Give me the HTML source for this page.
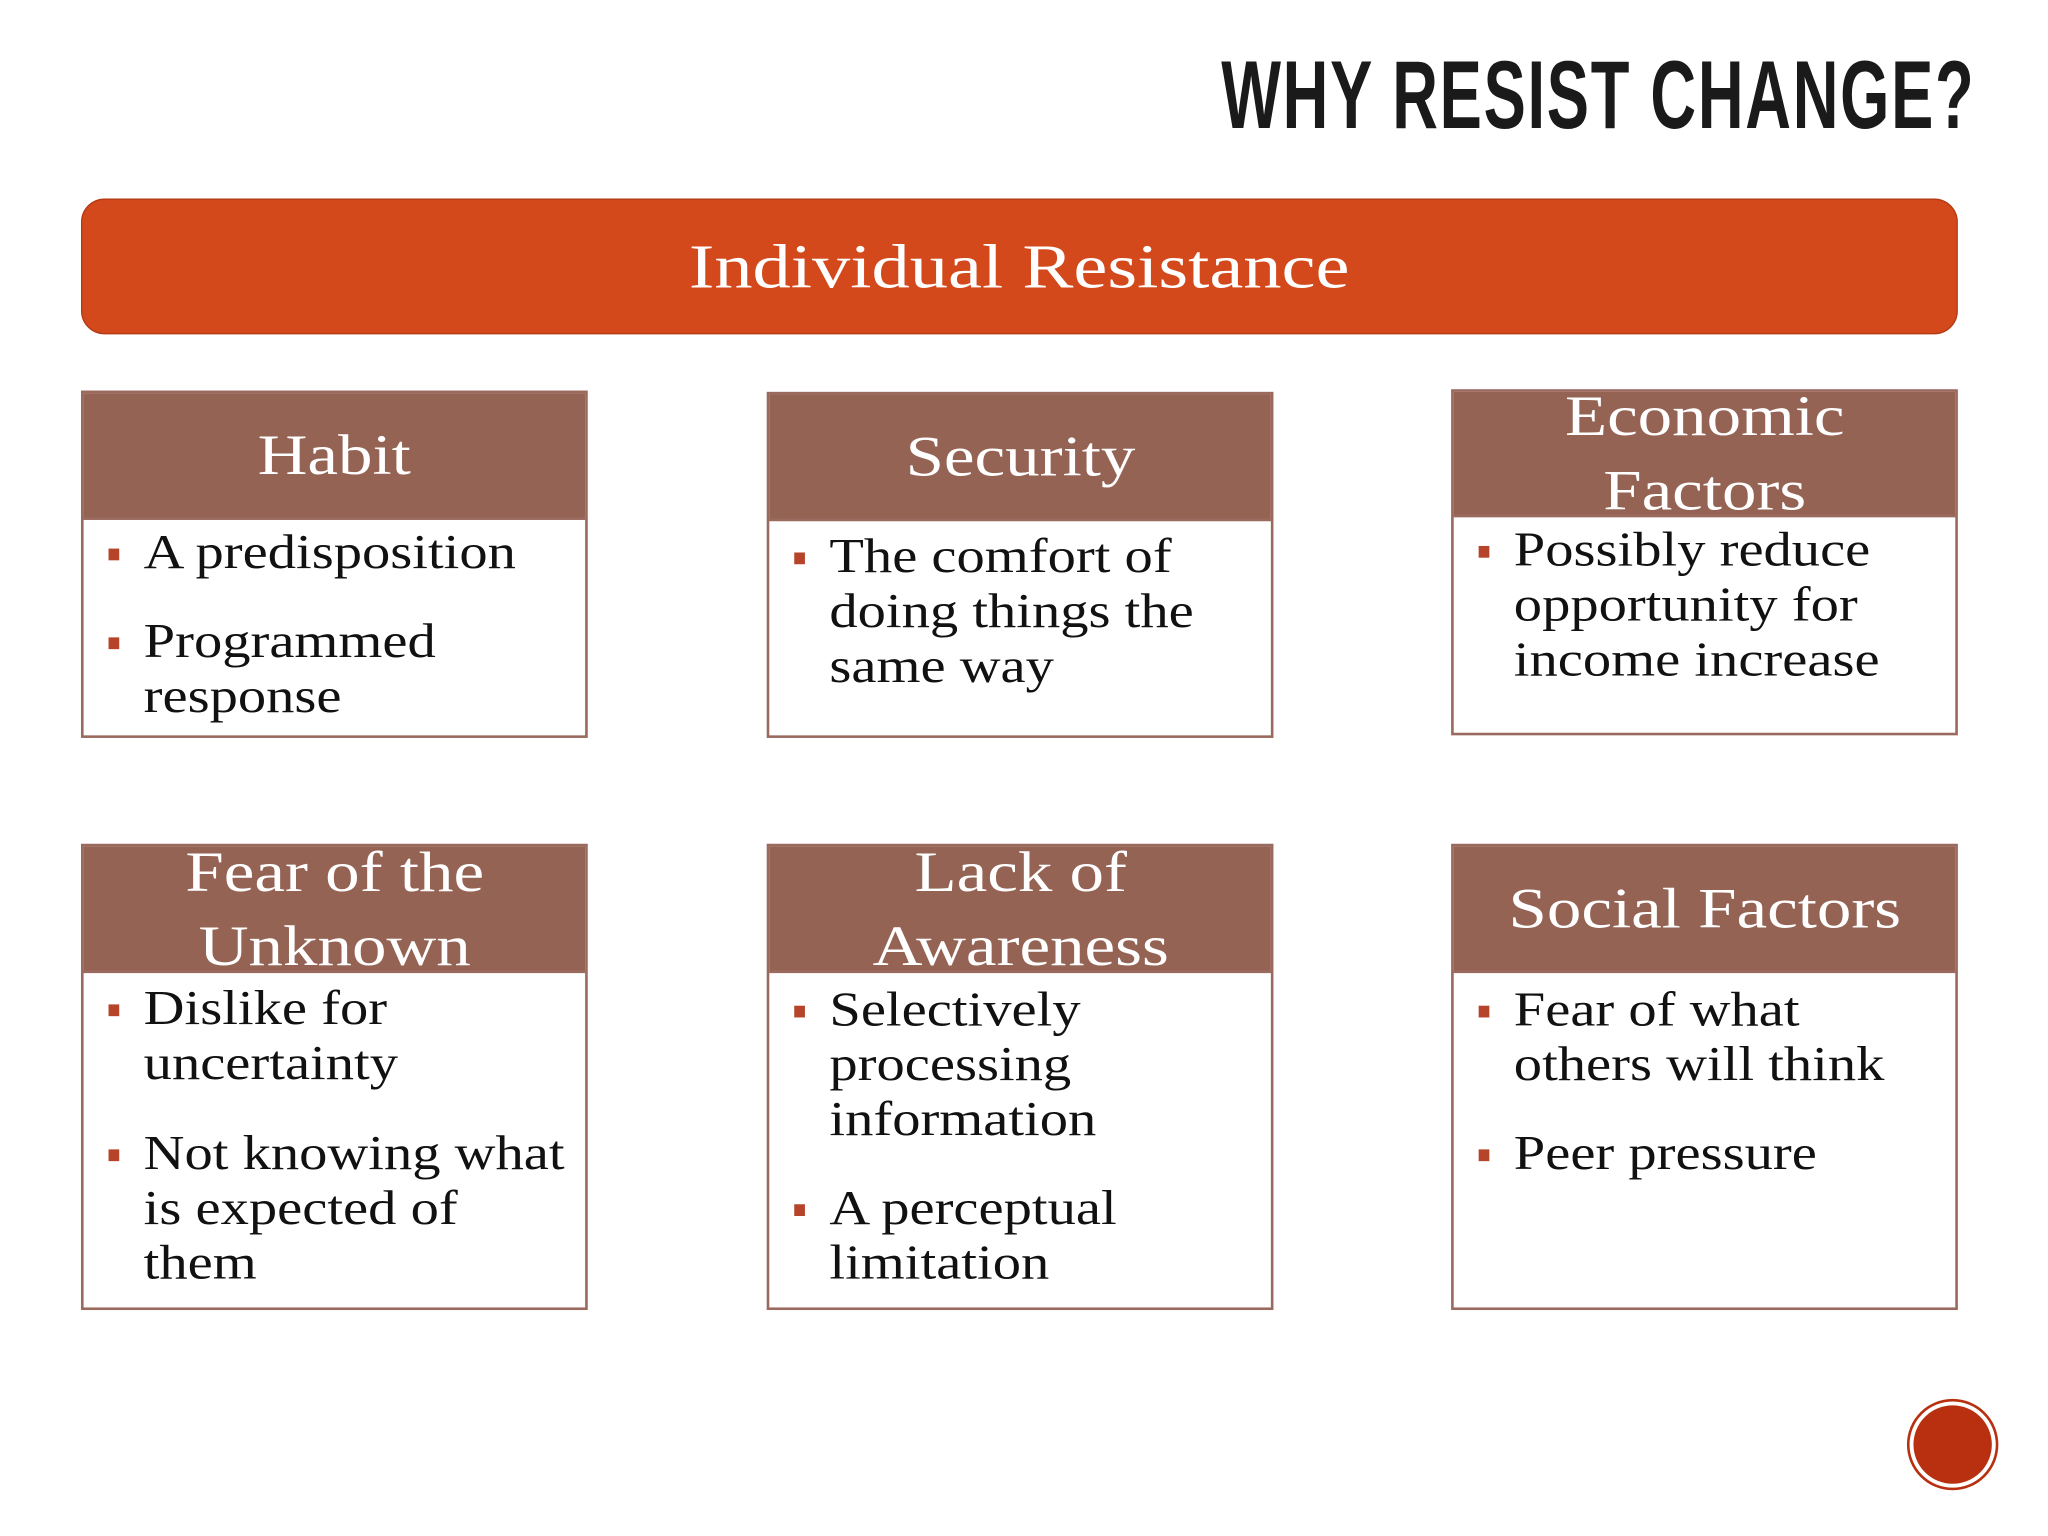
<!DOCTYPE html>
<html><head><meta charset="utf-8"><style>
html,body{margin:0;padding:0;background:#fff;}
#wrap{position:absolute;left:0;top:0;width:1568px;height:1176px;transform:scale(1.30612);transform-origin:0 0;background:#fff;font-family:"Liberation Serif",serif;}
.title{position:absolute;left:935px;top:30px;font-family:"Liberation Sans",sans-serif;font-weight:bold;font-size:74px;letter-spacing:2px;color:#1a1a1a;transform:scaleX(0.655);transform-origin:0 0;white-space:nowrap;}
.banner{position:absolute;left:62px;top:152px;width:1435px;height:102px;background:#D4491C;border:1px solid #B33A14;border-radius:18px;color:#fff;font-size:48px;text-align:center;line-height:104px;}
.banner span{display:inline-block;transform:scaleX(1.22);}
.box{position:absolute;width:384px;border:2px solid #9a6a5e;background:#fff;}
.hd{background:#956354;color:#fff;text-align:center;font-size:44px;line-height:57px;height:95px;display:flex;align-items:center;justify-content:center;overflow:hidden;border-bottom:2px solid #9a6a5e;}
.hd span{display:inline-block;transform:scaleX(1.2);}
.bd{position:relative;}
.li{position:absolute;left:46px;font-size:37px;line-height:42px;color:#111;white-space:nowrap;transform:scaleX(1.17);transform-origin:0 0;}
.li:before{content:"";position:absolute;left:-23px;top:17px;width:7px;height:9px;background:#B5442B;}
.circ{position:absolute;left:1462px;top:1073px;width:60px;height:60px;border-radius:50%;background:#B8300F;border:3px solid #fff;box-shadow:0 0 0 2px #B8300F;}
</style></head><body><div id="wrap">
<div class="title">WHY RESIST CHANGE?</div>
<div class="banner"><span>Individual Resistance</span></div>

<div class="box" style="left:62px;top:299px;height:262px"><div class="hd"><span>Habit</span></div><div class="bd">
<div class="li" style="top:5px">A predisposition</div>
<div class="li" style="top:73px">Programmed<br>response</div></div></div>

<div class="box" style="left:587px;top:300px;height:261px"><div class="hd"><span>Security</span></div><div class="bd">
<div class="li" style="top:7px">The comfort of<br>doing things the<br>same way</div></div></div>

<div class="box" style="left:1111px;top:298px;height:261px"><div class="hd" style="height:94px"><span>Economic<br>Factors</span></div><div class="bd">
<div class="li" style="top:5px">Possibly reduce<br>opportunity for<br>income increase</div></div></div>

<div class="box" style="left:62px;top:646px;height:353px"><div class="hd"><span>Fear of the<br>Unknown</span></div><div class="bd">
<div class="li" style="top:7px">Dislike for<br>uncertainty</div>
<div class="li" style="top:118px">Not knowing what<br>is expected of<br>them</div></div></div>

<div class="box" style="left:587px;top:646px;height:353px"><div class="hd"><span>Lack of<br>Awareness</span></div><div class="bd">
<div class="li" style="top:8px">Selectively<br>processing<br>information</div>
<div class="li" style="top:160px">A perceptual<br>limitation</div></div></div>

<div class="box" style="left:1111px;top:646px;height:353px"><div class="hd"><span>Social Factors</span></div><div class="bd">
<div class="li" style="top:8px">Fear of what<br>others will think</div>
<div class="li" style="top:118px">Peer pressure</div></div></div>

<div class="circ"></div>
</div></body></html>
